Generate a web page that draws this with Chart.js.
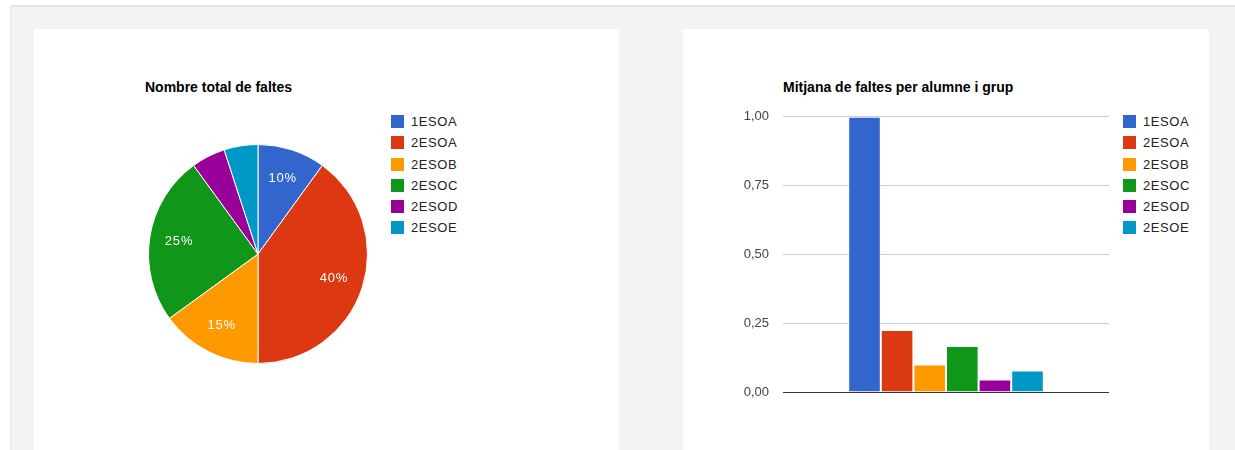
<!DOCTYPE html>
<html><head><meta charset="utf-8">
<script src="https://cdn.jsdelivr.net/npm/chart.js@4.4.0/dist/chart.umd.min.js"></script>
<style>
html,body{margin:0;padding:0;background:#fff;width:1235px;height:450px;overflow:hidden;font-family:Arial,"Liberation Sans",sans-serif;}
#bg{position:absolute;left:10px;top:5px;width:1240px;height:460px;background:#f3f3f3;border-top:2px solid #e6e6e6;border-left:2px solid #ececec;}
.panel{position:absolute;background:#fff;top:29px;height:430px;}
.title{position:absolute;font-weight:bold;font-size:14px;color:#000;white-space:nowrap;}
.legend{position:absolute;font-size:13px;color:#222;}
.legend div{position:relative;height:21.3px;line-height:14px;white-space:nowrap;letter-spacing:0.6px;}
.legend span.sw{position:absolute;left:0;top:0;width:13px;height:13px;}
.legend span.tx{position:absolute;left:20px;top:0px;}
canvas{position:absolute;}
</style></head>
<body>
<div id="bg"></div>
<div class="panel" style="left:34px;width:585px;"></div>
<div class="panel" style="left:683px;width:526px;"></div>
<div class="title" style="left:145px;top:79px;">Nombre total de faltes</div>
<div class="title" style="left:783px;top:79px;">Mitjana de faltes per alumne i grup</div>
<div class="legend" id="leg1" style="left:391px;top:115px;"></div>
<div class="legend" id="leg2" style="left:1123px;top:115px;"></div>
<canvas id="pie" width="220" height="220" style="left:148px;top:144px;width:220px;height:220px;"></canvas>
<canvas id="bar" width="420" height="320" style="left:690px;top:95px;width:420px;height:320px;"></canvas>
<script>
const groups = ['1ESOA','2ESOA','2ESOB','2ESOC','2ESOD','2ESOE'];
const totalShare = [10, 40, 15, 25, 5, 5];
const averageAbsences = [1.00, 0.225, 0.10, 0.167, 0.045, 0.078];
const yTicks = [0, 0.25, 0.5, 0.75, 1.0];
const colors = ['#3366cc','#dc3912','#ff9900','#109618','#990099','#0099c6'];

function buildLegend(id){
  const el = document.getElementById(id);
  groups.forEach((g,i)=>{
    const d = document.createElement('div');
    d.innerHTML = '<span class="sw" style="background:'+colors[i]+'"></span><span class="tx">'+g+'</span>';
    el.appendChild(d);
  });
}
buildLegend('leg1'); buildLegend('leg2');

Chart.defaults.font.family = 'Arial, "Liberation Sans", sans-serif';
Chart.defaults.animation = false;

const pieLabels = {
  id:'pieLabels',
  afterDatasetsDraw(chart){
    const ctx = chart.ctx;
    const meta = chart.getDatasetMeta(0);
    const total = totalShare.reduce((a,b)=>a+b,0);
    ctx.save();
    ctx.fillStyle = '#fff';
    ctx.font = '13px Arial, "Liberation Sans", sans-serif';
    if ('letterSpacing' in ctx) ctx.letterSpacing = '0.8px';
    ctx.textAlign = 'center';
    ctx.textBaseline = 'middle';
    meta.data.forEach((arc,i)=>{
      const pct = totalShare[i]/total*100;
      if (pct < 8) return;
      const mid = (arc.startAngle + arc.endAngle)/2;
      const r = arc.outerRadius*0.73;
      const x = arc.x + Math.cos(mid)*r;
      const y = arc.y + Math.sin(mid)*r;
      ctx.fillText(Math.round(pct)+'%', x, y);
    });
    ctx.restore();
  }
};

new Chart(document.getElementById('pie'), {
  type:'pie',
  data:{labels:groups, datasets:[{data:totalShare, backgroundColor:colors, borderColor:'#fff', borderWidth:1}]},
  options:{responsive:false, plugins:{legend:{display:false}, tooltip:{enabled:false}}, layout:{padding:0}},
  plugins:[pieLabels]
});

new Chart(document.getElementById('bar'), {
  type:'bar',
  data:{labels:[''], datasets: groups.map((g,i)=>({label:g, data:[averageAbsences[i]], backgroundColor:colors[i], borderColor:'rgba(255,255,255,0.6)', borderWidth:1}))},
  options:{
    responsive:false,
    layout:{padding:{top:11, bottom:23, right:1}},
    plugins:{legend:{display:false}, tooltip:{enabled:false}},
    datasets:{bar:{categoryPercentage:0.6, barPercentage:1.0}},
    scales:{
      x:{grid:{display:false}, border:{display:false}, ticks:{display:false}, afterFit(s){s.height=0;}},
      y:{min:0, max:1, 
         afterFit(s){s.width=93;},
         afterBuildTicks(s){s.ticks = yTicks.map(v=>({value:v}));},
         border:{display:false},
         grid:{drawTicks:false, color:(c)=> c.tick && c.tick.value===0 ? '#333' : '#cccccc', lineWidth:1},
         ticks:{padding:14, color:'#444', font:{size:13}, callback:(v)=>v.toFixed(2).replace('.',',')}
      }
    }
  }
});
</script>
</body></html>
